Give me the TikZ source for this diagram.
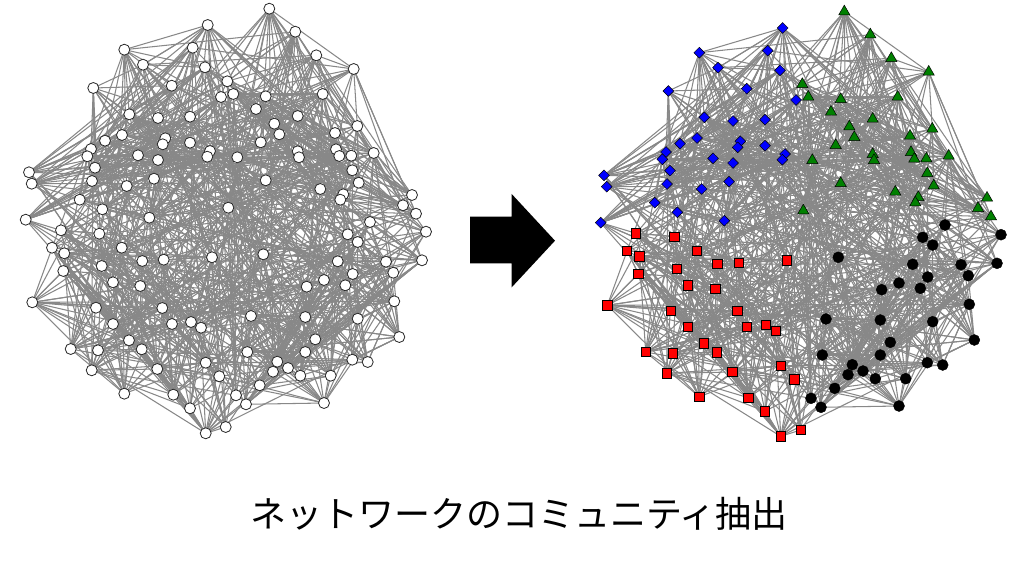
\documentclass[tikz,border=0pt]{standalone}
\usepackage{fontspec}
\newfontfamily\jpfont{Noto Sans CJK JP}
\usetikzlibrary{shapes.geometric}
\pgfdeclarelayer{bg}
\pgfsetlayers{bg,main}
\definecolor{edgegray}{RGB}{136,136,136}
\definecolor{cgreen}{RGB}{0,128,0}
\tikzset{
  edge/.style={draw=edgegray, line width=1.05pt},
  plain/.style={circle, draw=black!85, fill=white, line width=0.8pt, inner sep=0pt, minimum size=11pt},
  comm0/.style={diamond, draw=black, fill=blue, line width=0.5pt, inner sep=0pt, minimum width=11pt, minimum height=11pt},
  comm1/.style={regular polygon, regular polygon sides=3, draw=black, fill=cgreen, line width=0.5pt, inner sep=0pt, minimum size=13pt},
  comm2/.style={rectangle, draw=black, fill=red, line width=0.6pt, inner sep=0pt, minimum size=9.5pt},
  comm3/.style={circle, draw=black, fill=black, inner sep=0pt, minimum size=11pt},
  bigarrow/.style={fill=black},
  caption/.style={font=\jpfont\fontsize{36}{40}\selectfont, inner sep=0pt}
}
\begin{document}
\begin{tikzpicture}[x=1pt, y=-1pt]
\useasboundingbox (0,0) rectangle (1024,561);
\foreach \x/\y [count=\i] in {
782.7/28, 699.3/52.7, 767.7/50.7, 718/67.7, 780/70.3, 668.3/91, 746.7/88.7, 796/100,
704.3/117.3, 733/121, 765/119.7, 697/138, 680/143.7, 740.3/141.3, 737.7/147.3, 765/145.7,
666/152, 662.3/159.3, 785/154, 782.3/159.7, 713/158.3, 733/163, 670/170.7, 604/175.3,
606.7/186.7, 667/184, 729/181.7, 701.7/189, 654.7/202.7, 677.3/212.3, 600.7/222.7, 724.3/220.7,
844.3/11.7, 870.3/34.7, 891.3/58.3, 928.7/72, 802.3/84.3, 808.3/97, 840.7/99.3, 897.7/97,
831/112, 872.7/119, 932.3/129, 849.3/126.7, 854.3/137.3, 910/136, 835.7/145.3, 911/152.3,
872.7/154.3, 874/160.3, 914.3/159, 926.3/158.7, 948.7/156, 812.3/160.3, 927.3/173.3, 933.7/185.7,
840.7/183.3, 895.3/192, 918.3/197.3, 915.3/202.7, 987/198, 978/208.3, 991/216.7, 803.3/210.7,
636/233.3, 674.3/236.7, 627/250.7, 639.3/256.3, 696.7/250.7, 717.3/264, 738.7/262.7, 787/260.3,
676.7/269, 638.3/274, 688/285.3, 715.3/289, 607.3/305.3, 671/310.7, 737.3/311, 688/327,
747/327, 766/325, 776/330.7, 704/343.3, 716.7/352.3, 645.7/352, 673/353.3, 666.7/373.3,
732.3/372, 780.7/365.7, 794.3/379.3, 699.3/396.7, 748.3/397.7, 765/411.3, 780.7/436.3, 800.7/430,
945/225, 1001/234.7, 922.7/237.3, 932.7/245, 838.3/257.3, 912.7/264.3, 961/264.7, 997/263.3,
968.3/275.7, 927.7/277, 899/283, 920.3/288.3, 881.7/289.7, 969.3/304.3, 826/319, 880.3/320,
932.7/321.7, 974.3/340, 890.3/342.3, 822.3/355, 880.3/355, 852.3/364.7, 863/371, 848/374.7,
927.3/362.7, 942.7/365, 875.3/378.7, 905.7/378.7, 834.7/388.3, 811/398.3, 821/407.3, 899/406}
{
  \pgfmathtruncatemacro\c{int((\i-1)/32)}
  \node[comm\c] (r\i) at (\x,\y) {};
  \node[plain] (l\i) at (\x-575,\y-3) {};
}
\pgfmathsetseed{20231}
\begin{pgfonlayer}{bg}
\foreach \i in {1,...,128}{
  \foreach \k in {1,...,9}{
    \pgfmathtruncatemacro\c{int((\i-1)/32)}
    \pgfmathtruncatemacro\s{random(0,99)}
    \ifnum\s<50
      \pgfmathtruncatemacro\j{32*\c+random(1,32)}
    \else
      \pgfmathtruncatemacro\j{random(1,128)}
    \fi
    \draw[edge] (l\i.center) -- (l\j.center);
    \draw[edge] (r\i.center) -- (r\j.center);
  }
}
\end{pgfonlayer}
\fill[bigarrow] (470,216.7) -- (511.7,216.7) -- (511.7,194) -- (555,240.7) -- (511.7,287.3) -- (511.7,263.3) -- (470,263.3) -- cycle;
\node[caption] (cap) at (519,514) {ネットワークのコミュニティ抽出};
\end{tikzpicture}
\end{document}
